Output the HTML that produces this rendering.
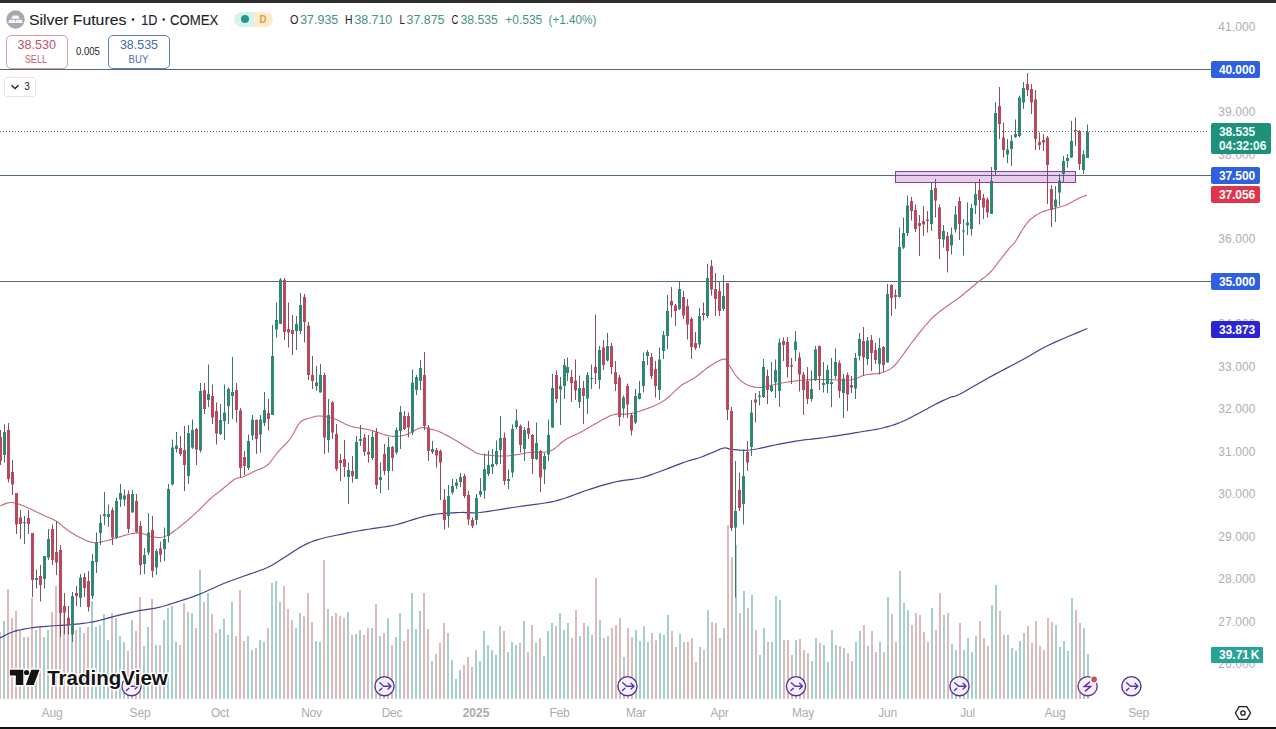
<!DOCTYPE html>
<html><head><meta charset="utf-8"><title>Silver Futures</title>
<style>
html,body{margin:0;padding:0;}
body{width:1276px;height:729px;overflow:hidden;background:#fff;position:relative;font-family:"Liberation Sans",sans-serif;}
.abs{position:absolute;}
.pl{position:absolute;left:1211px;width:52px;text-align:center;font-size:12px;line-height:15px;color:#adafb5;letter-spacing:0.1px;}
.tl{position:absolute;top:705px;width:60px;text-align:center;font-size:12px;line-height:16px;color:#abacaf;letter-spacing:-0.2px;}
.tag{position:absolute;left:1211px;width:49px;height:16.5px;box-sizing:border-box;padding-left:3px;border-radius:2px;color:#fff;font-weight:bold;font-size:12px;line-height:18.5px;text-align:center;letter-spacing:-0.1px;}
</style></head><body>
<svg id="chart" width="1276" height="729" viewBox="0 0 1276 729" style="position:absolute;left:0;top:0"><g shape-rendering="crispEdges"><rect x="-1" y="632" width="2" height="67" fill="#dfbaba"/><rect x="3" y="621" width="2" height="78" fill="#a6cfcb"/><rect x="7" y="589" width="2" height="110" fill="#dfbaba"/><rect x="11" y="618" width="2" height="81" fill="#dfbaba"/><rect x="15" y="611" width="2" height="88" fill="#dfbaba"/><rect x="19" y="629.5" width="2" height="69.5" fill="#dfbaba"/><rect x="23" y="637" width="2" height="62" fill="#a6cfcb"/><rect x="27" y="637" width="2" height="62" fill="#dfbaba"/><rect x="31" y="598" width="2" height="101" fill="#dfbaba"/><rect x="35" y="629.5" width="2" height="69.5" fill="#a6cfcb"/><rect x="39" y="627" width="2" height="72" fill="#dfbaba"/><rect x="43" y="637" width="2" height="62" fill="#a6cfcb"/><rect x="47" y="629.5" width="2" height="69.5" fill="#a6cfcb"/><rect x="51" y="611.5" width="2" height="87.5" fill="#dfbaba"/><rect x="55" y="586" width="2" height="113" fill="#dfbaba"/><rect x="59" y="589.5" width="2" height="109.5" fill="#dfbaba"/><rect x="63" y="606" width="2" height="93" fill="#dfbaba"/><rect x="67" y="617" width="2" height="82" fill="#dfbaba"/><rect x="71" y="619.5" width="2" height="79.5" fill="#a6cfcb"/><rect x="75" y="629.5" width="2" height="69.5" fill="#dfbaba"/><rect x="79" y="627" width="2" height="72" fill="#a6cfcb"/><rect x="83" y="633" width="2" height="66" fill="#dfbaba"/><rect x="87" y="626.5" width="2" height="72.5" fill="#dfbaba"/><rect x="91" y="601" width="2" height="98" fill="#a6cfcb"/><rect x="95" y="627" width="2" height="72" fill="#a6cfcb"/><rect x="99" y="625" width="2" height="74" fill="#a6cfcb"/><rect x="103" y="614" width="2" height="85" fill="#a6cfcb"/><rect x="107" y="640" width="2" height="59" fill="#a6cfcb"/><rect x="111" y="613" width="2" height="86" fill="#dfbaba"/><rect x="115" y="618" width="2" height="81" fill="#a6cfcb"/><rect x="119" y="636" width="2" height="63" fill="#a6cfcb"/><rect x="123" y="642" width="2" height="57" fill="#a6cfcb"/><rect x="127" y="651" width="2" height="48" fill="#dfbaba"/><rect x="131" y="619.5" width="2" height="79.5" fill="#a6cfcb"/><rect x="135" y="631" width="2" height="68" fill="#dfbaba"/><rect x="139" y="597" width="2" height="102" fill="#dfbaba"/><rect x="143" y="646" width="2" height="53" fill="#a6cfcb"/><rect x="147" y="626.5" width="2" height="72.5" fill="#a6cfcb"/><rect x="151" y="599" width="2" height="100" fill="#dfbaba"/><rect x="155" y="644.5" width="2" height="54.5" fill="#a6cfcb"/><rect x="159" y="644.5" width="2" height="54.5" fill="#dfbaba"/><rect x="163" y="619.5" width="2" height="79.5" fill="#a6cfcb"/><rect x="167" y="608" width="2" height="91" fill="#a6cfcb"/><rect x="171" y="606" width="2" height="93" fill="#a6cfcb"/><rect x="175" y="642" width="2" height="57" fill="#a6cfcb"/><rect x="179" y="644.5" width="2" height="54.5" fill="#dfbaba"/><rect x="183" y="603" width="2" height="96" fill="#dfbaba"/><rect x="187" y="612" width="2" height="87" fill="#a6cfcb"/><rect x="191" y="613" width="2" height="86" fill="#a6cfcb"/><rect x="195" y="628" width="2" height="71" fill="#dfbaba"/><rect x="199" y="570" width="2" height="129" fill="#a6cfcb"/><rect x="203" y="602" width="2" height="97" fill="#dfbaba"/><rect x="207" y="593" width="2" height="106" fill="#a6cfcb"/><rect x="211" y="614" width="2" height="85" fill="#dfbaba"/><rect x="215" y="633" width="2" height="66" fill="#dfbaba"/><rect x="219" y="629" width="2" height="70" fill="#a6cfcb"/><rect x="223" y="619" width="2" height="80" fill="#a6cfcb"/><rect x="227" y="635" width="2" height="64" fill="#a6cfcb"/><rect x="231" y="602" width="2" height="97" fill="#a6cfcb"/><rect x="235" y="636" width="2" height="63" fill="#dfbaba"/><rect x="239" y="590" width="2" height="109" fill="#dfbaba"/><rect x="243" y="641" width="2" height="58" fill="#dfbaba"/><rect x="247" y="636" width="2" height="63" fill="#a6cfcb"/><rect x="251" y="649.5" width="2" height="49.5" fill="#a6cfcb"/><rect x="255" y="648" width="2" height="51" fill="#dfbaba"/><rect x="259" y="639.5" width="2" height="59.5" fill="#a6cfcb"/><rect x="263" y="642" width="2" height="57" fill="#a6cfcb"/><rect x="267" y="628" width="2" height="71" fill="#dfbaba"/><rect x="271" y="582.5" width="2" height="116.5" fill="#a6cfcb"/><rect x="275" y="581" width="2" height="118" fill="#a6cfcb"/><rect x="279" y="601.5" width="2" height="97.5" fill="#a6cfcb"/><rect x="283" y="586" width="2" height="113" fill="#dfbaba"/><rect x="287" y="609" width="2" height="90" fill="#dfbaba"/><rect x="291" y="620" width="2" height="79" fill="#dfbaba"/><rect x="295" y="628" width="2" height="71" fill="#a6cfcb"/><rect x="299" y="613" width="2" height="86" fill="#a6cfcb"/><rect x="303" y="616" width="2" height="83" fill="#dfbaba"/><rect x="307" y="592.5" width="2" height="106.5" fill="#dfbaba"/><rect x="311" y="622" width="2" height="77" fill="#dfbaba"/><rect x="315" y="641" width="2" height="58" fill="#a6cfcb"/><rect x="319" y="642" width="2" height="57" fill="#a6cfcb"/><rect x="323" y="560" width="2" height="139" fill="#dfbaba"/><rect x="327" y="609" width="2" height="90" fill="#a6cfcb"/><rect x="331" y="616" width="2" height="83" fill="#dfbaba"/><rect x="335" y="613" width="2" height="86" fill="#dfbaba"/><rect x="339" y="616" width="2" height="83" fill="#dfbaba"/><rect x="343" y="618" width="2" height="81" fill="#dfbaba"/><rect x="347" y="612" width="2" height="87" fill="#a6cfcb"/><rect x="351" y="635" width="2" height="64" fill="#dfbaba"/><rect x="355" y="634" width="2" height="65" fill="#a6cfcb"/><rect x="359" y="630" width="2" height="69" fill="#a6cfcb"/><rect x="363" y="635" width="2" height="64" fill="#dfbaba"/><rect x="367" y="628" width="2" height="71" fill="#dfbaba"/><rect x="371" y="628" width="2" height="71" fill="#a6cfcb"/><rect x="375" y="604" width="2" height="95" fill="#dfbaba"/><rect x="379" y="636" width="2" height="63" fill="#a6cfcb"/><rect x="383" y="633" width="2" height="66" fill="#dfbaba"/><rect x="387" y="618" width="2" height="81" fill="#a6cfcb"/><rect x="391" y="645" width="2" height="54" fill="#dfbaba"/><rect x="395" y="637" width="2" height="62" fill="#a6cfcb"/><rect x="399" y="613" width="2" height="86" fill="#a6cfcb"/><rect x="403" y="641" width="2" height="58" fill="#dfbaba"/><rect x="407" y="629" width="2" height="70" fill="#dfbaba"/><rect x="411" y="593" width="2" height="106" fill="#a6cfcb"/><rect x="415" y="629" width="2" height="70" fill="#a6cfcb"/><rect x="419" y="611" width="2" height="88" fill="#a6cfcb"/><rect x="423" y="593" width="2" height="106" fill="#dfbaba"/><rect x="427" y="629" width="2" height="70" fill="#dfbaba"/><rect x="431" y="661" width="2" height="38" fill="#a6cfcb"/><rect x="435" y="654" width="2" height="45" fill="#dfbaba"/><rect x="439" y="643" width="2" height="56" fill="#dfbaba"/><rect x="443" y="623" width="2" height="76" fill="#dfbaba"/><rect x="447" y="633" width="2" height="66" fill="#a6cfcb"/><rect x="451" y="660" width="2" height="39" fill="#a6cfcb"/><rect x="455" y="679" width="2" height="20" fill="#a6cfcb"/><rect x="459" y="670" width="2" height="29" fill="#a6cfcb"/><rect x="463" y="665" width="2" height="34" fill="#dfbaba"/><rect x="467" y="657" width="2" height="42" fill="#dfbaba"/><rect x="471" y="667" width="2" height="32" fill="#dfbaba"/><rect x="475" y="650" width="2" height="49" fill="#a6cfcb"/><rect x="479" y="661" width="2" height="38" fill="#a6cfcb"/><rect x="483" y="631" width="2" height="68" fill="#a6cfcb"/><rect x="487" y="644.5" width="2" height="54.5" fill="#a6cfcb"/><rect x="491" y="649.5" width="2" height="49.5" fill="#a6cfcb"/><rect x="495" y="654.5" width="2" height="44.5" fill="#a6cfcb"/><rect x="499" y="626" width="2" height="73" fill="#a6cfcb"/><rect x="503" y="631" width="2" height="68" fill="#dfbaba"/><rect x="507" y="651.5" width="2" height="47.5" fill="#a6cfcb"/><rect x="511" y="641.5" width="2" height="57.5" fill="#a6cfcb"/><rect x="515" y="644.5" width="2" height="54.5" fill="#a6cfcb"/><rect x="519" y="643" width="2" height="56" fill="#dfbaba"/><rect x="523" y="621" width="2" height="78" fill="#a6cfcb"/><rect x="527" y="651.5" width="2" height="47.5" fill="#dfbaba"/><rect x="531" y="624.5" width="2" height="74.5" fill="#dfbaba"/><rect x="535" y="643" width="2" height="56" fill="#a6cfcb"/><rect x="539" y="638" width="2" height="61" fill="#dfbaba"/><rect x="543" y="656" width="2" height="43" fill="#a6cfcb"/><rect x="547" y="631" width="2" height="68" fill="#a6cfcb"/><rect x="551" y="623" width="2" height="76" fill="#a6cfcb"/><rect x="555" y="626" width="2" height="73" fill="#dfbaba"/><rect x="559" y="612.5" width="2" height="86.5" fill="#a6cfcb"/><rect x="563" y="629.5" width="2" height="69.5" fill="#a6cfcb"/><rect x="567" y="622.5" width="2" height="76.5" fill="#a6cfcb"/><rect x="571" y="638" width="2" height="61" fill="#dfbaba"/><rect x="575" y="609.5" width="2" height="89.5" fill="#dfbaba"/><rect x="579" y="636" width="2" height="63" fill="#a6cfcb"/><rect x="583" y="622.5" width="2" height="76.5" fill="#dfbaba"/><rect x="587" y="626" width="2" height="73" fill="#a6cfcb"/><rect x="591" y="635" width="2" height="64" fill="#a6cfcb"/><rect x="595" y="578" width="2" height="121" fill="#dfbaba"/><rect x="599" y="619.5" width="2" height="79.5" fill="#a6cfcb"/><rect x="603" y="638" width="2" height="61" fill="#dfbaba"/><rect x="607" y="636" width="2" height="63" fill="#a6cfcb"/><rect x="611" y="627.5" width="2" height="71.5" fill="#dfbaba"/><rect x="615" y="624.5" width="2" height="74.5" fill="#dfbaba"/><rect x="619" y="617.5" width="2" height="81.5" fill="#dfbaba"/><rect x="623" y="657" width="2" height="42" fill="#a6cfcb"/><rect x="627" y="627.5" width="2" height="71.5" fill="#dfbaba"/><rect x="631" y="637" width="2" height="62" fill="#dfbaba"/><rect x="635" y="629.5" width="2" height="69.5" fill="#a6cfcb"/><rect x="639" y="641" width="2" height="58" fill="#a6cfcb"/><rect x="643" y="626" width="2" height="73" fill="#a6cfcb"/><rect x="647" y="641.5" width="2" height="57.5" fill="#a6cfcb"/><rect x="651" y="632.5" width="2" height="66.5" fill="#dfbaba"/><rect x="655" y="640" width="2" height="59" fill="#dfbaba"/><rect x="659" y="633" width="2" height="66" fill="#a6cfcb"/><rect x="663" y="634.5" width="2" height="64.5" fill="#a6cfcb"/><rect x="667" y="615" width="2" height="84" fill="#a6cfcb"/><rect x="671" y="631" width="2" height="68" fill="#dfbaba"/><rect x="675" y="647" width="2" height="52" fill="#dfbaba"/><rect x="679" y="634" width="2" height="65" fill="#a6cfcb"/><rect x="683" y="641.5" width="2" height="57.5" fill="#dfbaba"/><rect x="687" y="642" width="2" height="57" fill="#dfbaba"/><rect x="691" y="638" width="2" height="61" fill="#dfbaba"/><rect x="695" y="662" width="2" height="37" fill="#dfbaba"/><rect x="699" y="646.5" width="2" height="52.5" fill="#a6cfcb"/><rect x="703" y="649.5" width="2" height="49.5" fill="#dfbaba"/><rect x="707" y="609.5" width="2" height="89.5" fill="#a6cfcb"/><rect x="711" y="621.5" width="2" height="77.5" fill="#dfbaba"/><rect x="715" y="623" width="2" height="76" fill="#dfbaba"/><rect x="719" y="637.5" width="2" height="61.5" fill="#dfbaba"/><rect x="723" y="628" width="2" height="71" fill="#a6cfcb"/><rect x="727" y="525" width="2" height="174" fill="#dfbaba"/><rect x="731" y="557" width="2" height="142" fill="#dfbaba"/><rect x="735" y="545" width="2" height="154" fill="#a6cfcb"/><rect x="739" y="612.5" width="2" height="86.5" fill="#dfbaba"/><rect x="743" y="591" width="2" height="108" fill="#a6cfcb"/><rect x="747" y="608" width="2" height="91" fill="#dfbaba"/><rect x="751" y="595" width="2" height="104" fill="#a6cfcb"/><rect x="755" y="630" width="2" height="69" fill="#dfbaba"/><rect x="759" y="655" width="2" height="44" fill="#a6cfcb"/><rect x="763" y="628" width="2" height="71" fill="#a6cfcb"/><rect x="767" y="642" width="2" height="57" fill="#dfbaba"/><rect x="771" y="642" width="2" height="57" fill="#a6cfcb"/><rect x="775" y="596" width="2" height="103" fill="#a6cfcb"/><rect x="779" y="600" width="2" height="99" fill="#a6cfcb"/><rect x="783" y="639.5" width="2" height="59.5" fill="#dfbaba"/><rect x="787" y="639.5" width="2" height="59.5" fill="#dfbaba"/><rect x="791" y="655" width="2" height="44" fill="#dfbaba"/><rect x="795" y="639.5" width="2" height="59.5" fill="#a6cfcb"/><rect x="799" y="639" width="2" height="60" fill="#dfbaba"/><rect x="803" y="650" width="2" height="49" fill="#dfbaba"/><rect x="807" y="653" width="2" height="46" fill="#dfbaba"/><rect x="811" y="661" width="2" height="38" fill="#a6cfcb"/><rect x="815" y="637.5" width="2" height="61.5" fill="#a6cfcb"/><rect x="819" y="643" width="2" height="56" fill="#dfbaba"/><rect x="823" y="644.5" width="2" height="54.5" fill="#a6cfcb"/><rect x="827" y="662" width="2" height="37" fill="#a6cfcb"/><rect x="831" y="629.5" width="2" height="69.5" fill="#a6cfcb"/><rect x="835" y="644.5" width="2" height="54.5" fill="#a6cfcb"/><rect x="839" y="646" width="2" height="53" fill="#dfbaba"/><rect x="843" y="648" width="2" height="51" fill="#a6cfcb"/><rect x="847" y="652.5" width="2" height="46.5" fill="#dfbaba"/><rect x="851" y="661" width="2" height="38" fill="#dfbaba"/><rect x="855" y="642" width="2" height="57" fill="#a6cfcb"/><rect x="859" y="631" width="2" height="68" fill="#a6cfcb"/><rect x="863" y="624.5" width="2" height="74.5" fill="#dfbaba"/><rect x="867" y="646" width="2" height="53" fill="#a6cfcb"/><rect x="871" y="631" width="2" height="68" fill="#dfbaba"/><rect x="875" y="652" width="2" height="47" fill="#dfbaba"/><rect x="879" y="642" width="2" height="57" fill="#a6cfcb"/><rect x="883" y="652" width="2" height="47" fill="#dfbaba"/><rect x="887" y="597" width="2" height="102" fill="#a6cfcb"/><rect x="891" y="614" width="2" height="85" fill="#dfbaba"/><rect x="895" y="642" width="2" height="57" fill="#dfbaba"/><rect x="899" y="571" width="2" height="128" fill="#a6cfcb"/><rect x="903" y="603" width="2" height="96" fill="#a6cfcb"/><rect x="907" y="610" width="2" height="89" fill="#a6cfcb"/><rect x="911" y="624.5" width="2" height="74.5" fill="#dfbaba"/><rect x="915" y="612.5" width="2" height="86.5" fill="#dfbaba"/><rect x="919" y="614.5" width="2" height="84.5" fill="#dfbaba"/><rect x="923" y="632" width="2" height="67" fill="#dfbaba"/><rect x="927" y="642" width="2" height="57" fill="#dfbaba"/><rect x="931" y="608" width="2" height="91" fill="#a6cfcb"/><rect x="935" y="630" width="2" height="69" fill="#dfbaba"/><rect x="939" y="592.5" width="2" height="106.5" fill="#dfbaba"/><rect x="943" y="615" width="2" height="84" fill="#a6cfcb"/><rect x="947" y="612.5" width="2" height="86.5" fill="#dfbaba"/><rect x="951" y="644" width="2" height="55" fill="#a6cfcb"/><rect x="955" y="650" width="2" height="49" fill="#a6cfcb"/><rect x="959" y="622.5" width="2" height="76.5" fill="#dfbaba"/><rect x="963" y="649.5" width="2" height="49.5" fill="#a6cfcb"/><rect x="967" y="638" width="2" height="61" fill="#a6cfcb"/><rect x="971" y="652" width="2" height="47" fill="#a6cfcb"/><rect x="975" y="636" width="2" height="63" fill="#a6cfcb"/><rect x="979" y="621" width="2" height="78" fill="#dfbaba"/><rect x="983" y="637.5" width="2" height="61.5" fill="#dfbaba"/><rect x="987" y="646" width="2" height="53" fill="#dfbaba"/><rect x="991" y="605" width="2" height="94" fill="#a6cfcb"/><rect x="995" y="585" width="2" height="114" fill="#a6cfcb"/><rect x="999" y="611" width="2" height="88" fill="#dfbaba"/><rect x="1003" y="635" width="2" height="64" fill="#dfbaba"/><rect x="1007" y="635" width="2" height="64" fill="#a6cfcb"/><rect x="1011" y="648" width="2" height="51" fill="#a6cfcb"/><rect x="1015" y="651" width="2" height="48" fill="#a6cfcb"/><rect x="1019" y="641" width="2" height="58" fill="#a6cfcb"/><rect x="1023" y="633" width="2" height="66" fill="#a6cfcb"/><rect x="1027" y="626" width="2" height="73" fill="#dfbaba"/><rect x="1031" y="642.5" width="2" height="56.5" fill="#dfbaba"/><rect x="1035" y="621" width="2" height="78" fill="#dfbaba"/><rect x="1039" y="646" width="2" height="53" fill="#dfbaba"/><rect x="1043" y="650" width="2" height="49" fill="#dfbaba"/><rect x="1047" y="617.5" width="2" height="81.5" fill="#dfbaba"/><rect x="1051" y="622" width="2" height="77" fill="#dfbaba"/><rect x="1055" y="624.5" width="2" height="74.5" fill="#a6cfcb"/><rect x="1059" y="647" width="2" height="52" fill="#a6cfcb"/><rect x="1063" y="641" width="2" height="58" fill="#a6cfcb"/><rect x="1067" y="651" width="2" height="48" fill="#a6cfcb"/><rect x="1071" y="597.5" width="2" height="101.5" fill="#a6cfcb"/><rect x="1075" y="609.5" width="2" height="89.5" fill="#dfbaba"/><rect x="1079" y="623" width="2" height="76" fill="#dfbaba"/><rect x="1083" y="627.5" width="2" height="71.5" fill="#a6cfcb"/><rect x="1087" y="654" width="2" height="45" fill="#a6cfcb"/></g><g shape-rendering="crispEdges"><rect x="0" y="69" width="1211" height="1" fill="#506d77"/><rect x="0" y="175" width="1211" height="1" fill="#506d77"/><rect x="0" y="281" width="1211" height="1" fill="#506d77"/></g><line x1="0" y1="131.5" x2="1209" y2="131.5" stroke="#5b6b66" stroke-width="1" stroke-dasharray="1 2" shape-rendering="crispEdges"/><polyline fill="none" stroke="#3f418c" stroke-width="1.2" stroke-linejoin="round" points="0,638 1.3,637.32 3.06,636.37 5.16,635.25 7.5,634.07 9.98,632.95 12.5,632 15.1,631.19 17.87,630.44 20.78,629.75 23.8,629.11 26.88,628.53 30,628 33.16,627.55 36.39,627.17 39.69,626.84 43.06,626.56 46.49,626.28 50,626 53.63,625.73 57.39,625.5 61.23,625.29 65.06,625.06 68.84,624.81 72.5,624.5 76.01,624.16 79.42,623.82 82.77,623.45 86.1,623.02 89.47,622.51 92.9,621.9 96.37,621.15 99.84,620.29 103.33,619.34 106.89,618.36 110.53,617.36 114.3,616.4 118.28,615.43 122.47,614.43 126.75,613.41 131.01,612.43 135.13,611.51 139,610.7 142.57,610.05 145.91,609.54 149.12,609.09 152.28,608.64 155.48,608.1 158.8,607.4 162.27,606.52 165.81,605.52 169.39,604.43 172.97,603.29 176.52,602.14 180,601 183.37,599.9 186.66,598.82 189.92,597.73 193.19,596.58 196.54,595.35 200,594 203.66,592.47 207.5,590.76 211.41,588.97 215.28,587.19 219.01,585.5 222.5,584 225.59,582.75 228.33,581.7 230.94,580.75 233.61,579.8 236.56,578.75 240,577.5 244.12,576.04 248.8,574.44 253.75,572.75 258.7,571 263.38,569.24 267.5,567.5 271,565.78 274.07,564.06 276.88,562.31 279.54,560.56 282.2,558.78 285,557 287.92,555.15 290.83,553.22 293.75,551.28 296.67,549.39 299.58,547.61 302.5,546 305.24,544.6 307.78,543.37 310.31,542.25 313.06,541.19 316.22,540.12 320,539 324.72,537.79 330.28,536.52 336.25,535.25 342.22,534.04 347.78,532.94 352.5,532 356.2,531.28 359.17,530.74 361.72,530.31 364.17,529.93 366.82,529.51 370,529 373.73,528.43 377.78,527.87 382.03,527.28 386.39,526.63 390.75,525.88 395,525 399.25,523.91 403.61,522.61 407.97,521.22 412.22,519.83 416.27,518.56 420,517.5 423.29,516.66 426.2,515.96 428.91,515.38 431.57,514.87 434.38,514.42 437.5,514 440.99,513.62 444.72,513.3 448.59,513.03 452.5,512.81 456.34,512.64 460,512.5 463.33,512.47 466.39,512.57 469.38,512.72 472.5,512.81 475.97,512.77 480,512.5 484.69,511.95 489.91,511.19 495.47,510.28 501.2,509.31 506.94,508.36 512.5,507.5 518.09,506.72 523.89,505.94 529.69,505.19 535.28,504.44 540.45,503.72 545,503 548.7,502.36 551.67,501.81 554.22,501.28 556.67,500.69 559.32,499.95 562.5,499 566.2,497.78 570.19,496.33 574.38,494.75 578.7,493.11 583.1,491.5 587.5,490 591.97,488.56 596.57,487.11 601.25,485.69 605.93,484.33 610.53,483.09 615,482 619.37,481.13 623.7,480.46 627.97,479.91 632.13,479.37 636.15,478.77 640,478 643.56,477.1 646.85,476.13 650,475.09 653.15,473.98 656.44,472.79 660,471.5 663.99,470.03 668.33,468.37 672.81,466.62 677.22,464.91 681.35,463.33 685,462 688.11,460.97 690.83,460.15 693.28,459.47 695.56,458.85 697.76,458.22 700,457.5 702.24,456.69 704.39,455.85 706.47,455 708.5,454.15 710.5,453.31 712.5,452.5 714.51,451.65 716.52,450.74 718.5,449.84 720.43,449.04 722.27,448.4 724,448 725.49,447.91 726.72,448.09 727.88,448.44 729.11,448.85 730.6,449.24 732.5,449.5 734.81,449.7 737.39,449.94 740.22,450.16 743.28,450.28 746.55,450.25 750,450 753.73,449.48 757.78,448.72 762.03,447.81 766.39,446.83 770.75,445.87 775,445 779.17,444.2 783.33,443.41 787.5,442.62 791.67,441.87 795.83,441.16 800,440.5 804.05,439.94 807.96,439.48 811.88,439.06 815.93,438.63 820.25,438.13 825,437.5 830.4,436.71 836.39,435.8 842.66,434.81 848.89,433.81 854.77,432.86 860,432 864.53,431.26 868.61,430.61 872.34,430 875.83,429.39 879.18,428.74 882.5,428 885.71,427.2 888.7,426.39 891.56,425.53 894.35,424.61 897.14,423.61 900,422.5 902.92,421.27 905.83,419.93 908.75,418.5 911.67,417.02 914.58,415.51 917.5,414 920.45,412.45 923.43,410.81 926.41,409.16 929.35,407.52 932.23,405.95 935,404.5 937.7,403.15 940.37,401.85 942.97,400.62 945.46,399.48 947.82,398.44 950,397.5 951.72,396.87 952.96,396.57 954.06,396.38 955.37,396.04 957.23,395.32 960,394 963.82,391.95 968.44,389.33 973.62,386.34 979.11,383.17 984.65,379.99 990,377 995.28,374.14 1000.7,371.26 1006.19,368.38 1011.63,365.52 1016.93,362.72 1022,360 1026.66,357.4 1030.95,354.91 1035.1,352.47 1039.34,350.04 1043.9,347.56 1049,345 1055.18,342.15 1062.38,339 1069.89,335.81 1077.02,332.83 1083.09,330.31 1087.4,328.5"/><polyline fill="none" stroke="#c66b75" stroke-width="1.15" stroke-linejoin="round" points="0,506 1.09,505.56 2.59,504.89 4.38,504.12 6.3,503.39 8.22,502.81 10,502.5 11.64,502.47 13.24,502.63 14.84,502.94 16.48,503.37 18.19,503.9 20,504.5 21.94,505.21 23.98,506.06 26.09,507 28.24,508 30.39,509.01 32.5,510 34.6,510.98 36.72,512 38.84,513.03 40.94,514.06 43,515.05 45,516 46.91,516.84 48.76,517.59 50.56,518.31 52.35,519.07 54.16,519.95 56,521 57.88,522.29 59.76,523.76 61.66,525.34 63.57,526.96 65.52,528.54 67.5,530 69.53,531.37 71.59,532.7 73.69,534 75.8,535.24 77.91,536.41 80,537.5 82.08,538.55 84.17,539.59 86.25,540.56 88.33,541.41 90.42,542.07 92.5,542.5 94.58,542.65 96.67,542.56 98.75,542.28 100.83,541.89 102.92,541.44 105,541 107.08,540.53 109.17,539.98 111.25,539.38 113.33,538.74 115.42,538.11 117.5,537.5 119.61,536.89 121.76,536.24 123.91,535.59 126.02,534.98 128.06,534.44 130,534 131.81,533.64 133.52,533.33 135.16,533.09 136.76,532.94 138.36,532.91 140,533 141.67,533.29 143.33,533.76 145,534.34 146.67,534.96 148.33,535.54 150,536 151.67,536.39 153.33,536.8 155,537.16 156.67,537.43 158.33,537.56 160,537.5 161.61,537.3 163.15,537 164.69,536.56 166.3,535.94 168.04,535.1 170,534 172.21,532.57 174.63,530.83 177.19,528.88 179.81,526.78 182.44,524.62 185,522.5 187.56,520.33 190.19,518.02 192.81,515.66 195.37,513.31 197.79,511.07 200,509 201.93,507.13 203.61,505.41 205.16,503.78 206.67,502.2 208.25,500.63 210,499 211.94,497.33 213.98,495.67 216.09,494 218.24,492.33 220.39,490.67 222.5,489 224.64,487.24 226.85,485.37 229.06,483.5 231.2,481.74 233.21,480.2 235,479 236.48,478.25 237.69,477.89 238.75,477.75 239.81,477.67 241.02,477.47 242.5,477 244.29,476.23 246.3,475.3 248.44,474.25 250.65,473.15 252.86,472.05 255,471 257.11,470.08 259.26,469.24 261.41,468.41 263.52,467.48 265.56,466.38 267.5,465 269.28,463.3 270.93,461.35 272.5,459.22 274.07,456.98 275.72,454.72 277.5,452.5 279.47,450.34 281.57,448.19 283.75,446 285.93,443.76 288.03,441.44 290,439 291.81,436.28 293.52,433.28 295.16,430.19 296.76,427.22 298.36,424.59 300,422.5 301.67,421.03 303.33,420.02 305,419.34 306.67,418.87 308.33,418.47 310,418 311.61,417.46 313.15,416.96 314.69,416.53 316.3,416.2 318.04,416.02 320,416 322.21,416.16 324.63,416.48 327.19,416.94 329.81,417.52 332.44,418.21 335,419 337.44,419.97 339.81,421.15 342.19,422.44 344.63,423.74 347.21,424.96 350,426 353.04,426.82 356.3,427.48 359.69,428.06 363.15,428.63 366.61,429.25 370,430 373.39,430.97 376.85,432.11 380.31,433.31 383.7,434.44 386.96,435.38 390,436 392.79,436.31 395.37,436.41 397.81,436.31 400.19,436.04 402.56,435.59 405,435 407.56,434.09 410.19,432.81 412.81,431.38 415.37,429.96 417.79,428.77 420,428 421.96,427.68 423.7,427.67 425.31,427.88 426.85,428.22 428.39,428.62 430,429 431.61,429.33 433.15,429.67 434.69,430.06 436.3,430.56 438.04,431.19 440,432 442.21,433.03 444.63,434.26 447.19,435.62 449.81,437.07 452.44,438.55 455,440 457.56,441.49 460.19,443.07 462.81,444.69 465.37,446.26 467.79,447.72 470,449 471.78,450.1 473.15,451.07 474.38,451.94 475.74,452.7 477.52,453.39 480,454 483.3,454.57 487.22,455.09 491.56,455.53 496.11,455.85 500.66,456.02 505,456 509.22,455.71 513.52,455.17 517.81,454.47 522.04,453.72 526.12,453.03 530,452.5 533.68,452.24 537.22,452.2 540.62,452.22 543.89,452.13 547.01,451.78 550,451 552.79,449.68 555.37,447.91 557.81,445.88 560.19,443.76 562.56,441.74 565,440 567.5,438.56 570,437.28 572.5,436.09 575,434.94 577.5,433.77 580,432.5 582.47,431.15 584.91,429.76 587.34,428.34 589.81,426.91 592.36,425.46 595,424 597.8,422.44 600.74,420.74 603.75,419.03 606.76,417.43 609.7,416.04 612.5,415 615.17,414.39 617.78,414.15 620.31,414.12 622.78,414.19 625.17,414.19 627.5,414 629.68,413.65 631.7,413.27 633.66,412.82 635.63,412.31 637.71,411.71 640,411 642.58,410.16 645.41,409.19 648.35,408.14 651.27,407.03 654.03,405.91 656.5,404.8 658.61,403.77 660.44,402.79 662.12,401.79 663.77,400.7 665.49,399.46 667.4,398 669.52,396.21 671.75,394.12 674.06,391.88 676.41,389.62 678.77,387.48 681.1,385.6 683.39,384.04 685.68,382.71 687.97,381.49 690.28,380.29 692.62,379 695,377.5 697.45,375.73 699.96,373.75 702.49,371.68 705.03,369.63 707.55,367.7 710,366 712.5,364.42 715.07,362.85 717.62,361.41 720.04,360.2 722.2,359.36 724,359 725.31,359.17 726.2,359.8 726.84,360.78 727.41,362.04 728.07,363.47 729,365 730.2,366.77 731.52,368.87 732.94,371.16 734.43,373.46 735.96,375.63 737.5,377.5 739.05,379.1 740.63,380.56 742.25,381.88 743.93,383.06 745.67,384.1 747.5,385 749.44,385.76 751.48,386.39 753.59,386.88 755.74,387.22 757.89,387.43 760,387.5 762.05,387.38 764.07,387.06 766.09,386.59 768.15,386.06 770.27,385.5 772.5,385 774.83,384.52 777.22,384 779.69,383.47 782.22,382.94 784.83,382.45 787.5,382 790.24,381.59 793.06,381.2 795.94,380.84 798.89,380.52 801.91,380.23 805,380 808.13,379.82 811.3,379.69 814.53,379.59 817.87,379.54 821.35,379.51 825,379.5 828.99,379.59 833.33,379.8 837.81,380.03 842.22,380.2 846.35,380.22 850,380 853.05,379.46 855.65,378.65 857.97,377.69 860.19,376.69 862.47,375.75 865,375 867.83,374.5 870.83,374.17 873.91,373.91 876.94,373.61 879.84,373.18 882.5,372.5 884.84,371.68 886.94,370.83 888.91,369.84 890.83,368.61 892.83,367.03 895,365 897.36,362.38 899.81,359.22 902.34,355.72 904.91,352.06 907.47,348.42 910,345 912.56,341.68 915.19,338.28 917.81,334.91 920.37,331.67 922.79,328.66 925,326 926.9,323.77 928.52,321.91 930,320.28 931.48,318.76 933.1,317.21 935,315.5 937.27,313.59 939.81,311.57 942.5,309.53 945.19,307.54 947.73,305.67 950,304 951.87,302.66 953.43,301.61 954.84,300.69 956.3,299.72 957.96,298.55 960,297 962.54,294.97 965.46,292.56 968.59,289.94 971.76,287.28 974.79,284.74 977.5,282.5 979.9,280.6 982.13,278.93 984.22,277.38 986.2,275.85 988.12,274.26 990,272.5 991.81,270.56 993.52,268.52 995.16,266.41 996.76,264.26 998.36,262.11 1000,260 1001.72,257.84 1003.52,255.57 1005.31,253.31 1007.04,251.15 1008.62,249.18 1010,247.5 1011.04,246.34 1011.76,245.67 1012.34,245.19 1012.96,244.61 1013.79,243.65 1015,242 1016.65,239.44 1018.61,236.17 1020.78,232.5 1023.06,228.78 1025.33,225.33 1027.5,222.5 1029.61,220.27 1031.76,218.37 1033.91,216.75 1036.02,215.35 1038.06,214.12 1040,213 1041.75,212.08 1043.33,211.41 1044.84,210.91 1046.39,210.48 1048.07,210.04 1050,209.5 1052.24,208.89 1054.72,208.3 1057.34,207.69 1060,207.04 1062.59,206.32 1065,205.5 1067.26,204.53 1069.46,203.43 1071.59,202.25 1073.65,201.07 1075.62,199.97 1077.5,199 1079.37,198.14 1081.24,197.33 1083.03,196.59 1084.65,195.94 1086,195.41 1087,195"/><g><rect x="0" y="430" width="1" height="35" fill="#8d4c5a"/><rect x="-1" y="437" width="3" height="24" fill="#ba495d"/><rect x="4" y="424.5" width="1" height="38" fill="#3f7468"/><rect x="3" y="432" width="3" height="23" fill="#2f8876"/><rect x="8" y="423" width="1" height="59.5" fill="#8d4c5a"/><rect x="7" y="430" width="3" height="49" fill="#ba495d"/><rect x="12" y="460" width="1" height="35" fill="#8d4c5a"/><rect x="11" y="472" width="3" height="12.5" fill="#ba495d"/><rect x="16" y="493" width="1" height="41" fill="#8d4c5a"/><rect x="15" y="493" width="3" height="31.5" fill="#ba495d"/><rect x="20" y="510" width="1" height="29" fill="#8d4c5a"/><rect x="19" y="517.5" width="3" height="6.5" fill="#ba495d"/><rect x="24" y="516" width="1" height="28" fill="#3f7468"/><rect x="23" y="522" width="3" height="1" fill="#2f8876"/><rect x="28" y="510" width="1" height="24" fill="#8d4c5a"/><rect x="27" y="518" width="3" height="6" fill="#ba495d"/><rect x="32" y="533" width="1" height="64" fill="#8d4c5a"/><rect x="31" y="533" width="3" height="47" fill="#ba495d"/><rect x="36" y="569.5" width="1" height="19" fill="#3f7468"/><rect x="35" y="578" width="3" height="2" fill="#2f8876"/><rect x="40" y="565" width="1" height="36.5" fill="#8d4c5a"/><rect x="39" y="576" width="3" height="9" fill="#ba495d"/><rect x="44" y="556" width="1" height="32.5" fill="#3f7468"/><rect x="43" y="556" width="3" height="23" fill="#2f8876"/><rect x="48" y="529" width="1" height="31" fill="#3f7468"/><rect x="47" y="539" width="3" height="18.5" fill="#2f8876"/><rect x="52" y="524.5" width="1" height="40.5" fill="#8d4c5a"/><rect x="51" y="529" width="3" height="31" fill="#ba495d"/><rect x="56" y="521" width="1" height="54" fill="#8d4c5a"/><rect x="55" y="552" width="3" height="10.5" fill="#ba495d"/><rect x="60" y="545" width="1" height="92" fill="#8d4c5a"/><rect x="59" y="550" width="3" height="63" fill="#ba495d"/><rect x="64" y="593" width="1" height="41.5" fill="#8d4c5a"/><rect x="63" y="606" width="3" height="6.5" fill="#ba495d"/><rect x="68" y="606" width="1" height="28.5" fill="#8d4c5a"/><rect x="67" y="618" width="3" height="6.5" fill="#ba495d"/><rect x="72" y="592" width="1" height="50" fill="#3f7468"/><rect x="71" y="596" width="3" height="38.5" fill="#2f8876"/><rect x="76" y="586" width="1" height="20" fill="#8d4c5a"/><rect x="75" y="593" width="3" height="3" fill="#ba495d"/><rect x="80" y="574" width="1" height="33" fill="#3f7468"/><rect x="79" y="577.5" width="3" height="20.5" fill="#2f8876"/><rect x="84" y="573" width="1" height="24" fill="#8d4c5a"/><rect x="83" y="577" width="3" height="11" fill="#ba495d"/><rect x="88" y="571" width="1" height="40.5" fill="#8d4c5a"/><rect x="87" y="581" width="3" height="26" fill="#ba495d"/><rect x="92" y="554" width="1" height="45" fill="#3f7468"/><rect x="91" y="561" width="3" height="35" fill="#2f8876"/><rect x="96" y="532.5" width="1" height="40.5" fill="#3f7468"/><rect x="95" y="542.5" width="3" height="19.5" fill="#2f8876"/><rect x="100" y="514.5" width="1" height="30.5" fill="#3f7468"/><rect x="99" y="523" width="3" height="10" fill="#2f8876"/><rect x="104" y="492" width="1" height="33" fill="#3f7468"/><rect x="103" y="514" width="3" height="2" fill="#2f8876"/><rect x="108" y="504.5" width="1" height="22.5" fill="#3f7468"/><rect x="107" y="514" width="3" height="3" fill="#2f8876"/><rect x="112" y="507.5" width="1" height="37.5" fill="#8d4c5a"/><rect x="111" y="510" width="3" height="27.5" fill="#ba495d"/><rect x="116" y="497.5" width="1" height="41.5" fill="#3f7468"/><rect x="115" y="501" width="3" height="36.5" fill="#2f8876"/><rect x="120" y="484" width="1" height="23" fill="#3f7468"/><rect x="119" y="493" width="3" height="6.5" fill="#2f8876"/><rect x="124" y="489.5" width="1" height="16.5" fill="#3f7468"/><rect x="123" y="495.5" width="3" height="4" fill="#2f8876"/><rect x="128" y="490.5" width="1" height="42.5" fill="#8d4c5a"/><rect x="127" y="494" width="3" height="35" fill="#ba495d"/><rect x="132" y="490" width="1" height="22.5" fill="#3f7468"/><rect x="131" y="494" width="3" height="18.5" fill="#2f8876"/><rect x="136" y="494" width="1" height="38.5" fill="#8d4c5a"/><rect x="135" y="501" width="3" height="31" fill="#ba495d"/><rect x="140" y="521" width="1" height="54" fill="#8d4c5a"/><rect x="139" y="526" width="3" height="39" fill="#ba495d"/><rect x="144" y="548" width="1" height="26" fill="#3f7468"/><rect x="143" y="555" width="3" height="9" fill="#2f8876"/><rect x="148" y="513" width="1" height="42" fill="#3f7468"/><rect x="147" y="532.5" width="3" height="20" fill="#2f8876"/><rect x="152" y="516" width="1" height="61.5" fill="#8d4c5a"/><rect x="151" y="530" width="3" height="41" fill="#ba495d"/><rect x="156" y="549" width="1" height="26" fill="#3f7468"/><rect x="155" y="551" width="3" height="16.5" fill="#2f8876"/><rect x="160" y="541.5" width="1" height="20.5" fill="#8d4c5a"/><rect x="159" y="548.5" width="3" height="6.2" fill="#ba495d"/><rect x="164" y="527.5" width="1" height="33.5" fill="#3f7468"/><rect x="163" y="539" width="3" height="10" fill="#2f8876"/><rect x="168" y="484" width="1" height="58.5" fill="#3f7468"/><rect x="167" y="489" width="3" height="47" fill="#2f8876"/><rect x="172" y="439.5" width="1" height="46" fill="#3f7468"/><rect x="171" y="447.5" width="3" height="37" fill="#2f8876"/><rect x="176" y="432" width="1" height="20.5" fill="#3f7468"/><rect x="175" y="445.5" width="3" height="3.5" fill="#2f8876"/><rect x="180" y="436" width="1" height="20" fill="#8d4c5a"/><rect x="179" y="448" width="3" height="6" fill="#ba495d"/><rect x="184" y="426" width="1" height="65" fill="#8d4c5a"/><rect x="183" y="450" width="3" height="15" fill="#ba495d"/><rect x="188" y="425" width="1" height="59" fill="#3f7468"/><rect x="187" y="433" width="3" height="43" fill="#2f8876"/><rect x="192" y="419.5" width="1" height="29.5" fill="#3f7468"/><rect x="191" y="430" width="3" height="17.5" fill="#2f8876"/><rect x="196" y="428" width="1" height="37" fill="#8d4c5a"/><rect x="195" y="429" width="3" height="20.5" fill="#ba495d"/><rect x="200" y="383" width="1" height="69.5" fill="#3f7468"/><rect x="199" y="391" width="3" height="59.5" fill="#2f8876"/><rect x="204" y="383" width="1" height="31" fill="#8d4c5a"/><rect x="203" y="390" width="3" height="19" fill="#ba495d"/><rect x="208" y="364.5" width="1" height="42.5" fill="#3f7468"/><rect x="207" y="394" width="3" height="6" fill="#2f8876"/><rect x="212" y="384.5" width="1" height="39.5" fill="#8d4c5a"/><rect x="211" y="396" width="3" height="21.5" fill="#ba495d"/><rect x="216" y="402.5" width="1" height="42" fill="#8d4c5a"/><rect x="215" y="411" width="3" height="22.5" fill="#ba495d"/><rect x="220" y="404" width="1" height="31" fill="#3f7468"/><rect x="219" y="420" width="3" height="14" fill="#2f8876"/><rect x="224" y="384.5" width="1" height="55.5" fill="#3f7468"/><rect x="223" y="412.5" width="3" height="8.5" fill="#2f8876"/><rect x="228" y="387.5" width="1" height="36.5" fill="#3f7468"/><rect x="227" y="389" width="3" height="17" fill="#2f8876"/><rect x="232" y="357" width="1" height="62" fill="#3f7468"/><rect x="231" y="392" width="3" height="4" fill="#2f8876"/><rect x="236" y="383" width="1" height="39.5" fill="#8d4c5a"/><rect x="235" y="390" width="3" height="20" fill="#ba495d"/><rect x="240" y="408" width="1" height="70" fill="#8d4c5a"/><rect x="239" y="410.5" width="3" height="57.5" fill="#ba495d"/><rect x="244" y="451" width="1" height="24" fill="#8d4c5a"/><rect x="243" y="457" width="3" height="9" fill="#ba495d"/><rect x="248" y="434.5" width="1" height="35.5" fill="#3f7468"/><rect x="247" y="441" width="3" height="27" fill="#2f8876"/><rect x="252" y="415" width="1" height="25" fill="#3f7468"/><rect x="251" y="419.5" width="3" height="16" fill="#2f8876"/><rect x="256" y="419.5" width="1" height="34.5" fill="#8d4c5a"/><rect x="255" y="420" width="3" height="19" fill="#ba495d"/><rect x="260" y="415" width="1" height="37.5" fill="#3f7468"/><rect x="259" y="419.5" width="3" height="15" fill="#2f8876"/><rect x="264" y="392" width="1" height="34" fill="#3f7468"/><rect x="263" y="410" width="3" height="13" fill="#2f8876"/><rect x="268" y="399" width="1" height="31.5" fill="#8d4c5a"/><rect x="267" y="413" width="3" height="6" fill="#ba495d"/><rect x="272" y="325" width="1" height="90" fill="#3f7468"/><rect x="271" y="356" width="3" height="59" fill="#2f8876"/><rect x="276" y="302.5" width="1" height="35" fill="#3f7468"/><rect x="275" y="320" width="3" height="9.5" fill="#2f8876"/><rect x="280" y="278" width="1" height="46" fill="#3f7468"/><rect x="279" y="279.5" width="3" height="44.5" fill="#2f8876"/><rect x="284" y="278" width="1" height="62" fill="#8d4c5a"/><rect x="283" y="280" width="3" height="52" fill="#ba495d"/><rect x="288" y="302.5" width="1" height="45" fill="#8d4c5a"/><rect x="287" y="329" width="3" height="3.5" fill="#ba495d"/><rect x="292" y="315" width="1" height="40" fill="#8d4c5a"/><rect x="291" y="330" width="3" height="4" fill="#ba495d"/><rect x="296" y="316" width="1" height="34" fill="#3f7468"/><rect x="295" y="324" width="3" height="7" fill="#2f8876"/><rect x="300" y="293" width="1" height="41" fill="#3f7468"/><rect x="299" y="305" width="3" height="26" fill="#2f8876"/><rect x="304" y="294" width="1" height="48.5" fill="#8d4c5a"/><rect x="303" y="297" width="3" height="25" fill="#ba495d"/><rect x="308" y="322" width="1" height="58" fill="#8d4c5a"/><rect x="307" y="325.5" width="3" height="49.5" fill="#ba495d"/><rect x="312" y="356" width="1" height="33" fill="#8d4c5a"/><rect x="311" y="375" width="3" height="6" fill="#ba495d"/><rect x="316" y="366" width="1" height="25" fill="#3f7468"/><rect x="315" y="382.5" width="3" height="3.5" fill="#2f8876"/><rect x="320" y="364" width="1" height="28.5" fill="#3f7468"/><rect x="319" y="375" width="3" height="17.5" fill="#2f8876"/><rect x="324" y="372.5" width="1" height="81.5" fill="#8d4c5a"/><rect x="323" y="375" width="3" height="62.5" fill="#ba495d"/><rect x="328" y="399" width="1" height="53.5" fill="#3f7468"/><rect x="327" y="415" width="3" height="25" fill="#2f8876"/><rect x="332" y="401" width="1" height="38" fill="#8d4c5a"/><rect x="331" y="402.5" width="3" height="30" fill="#ba495d"/><rect x="336" y="424" width="1" height="47" fill="#8d4c5a"/><rect x="335" y="434" width="3" height="35" fill="#ba495d"/><rect x="340" y="454" width="1" height="27" fill="#8d4c5a"/><rect x="339" y="460" width="3" height="3" fill="#ba495d"/><rect x="344" y="440" width="1" height="37" fill="#8d4c5a"/><rect x="343" y="459" width="3" height="8" fill="#ba495d"/><rect x="348" y="462.5" width="1" height="41.5" fill="#3f7468"/><rect x="347" y="470" width="3" height="7" fill="#2f8876"/><rect x="352" y="456" width="1" height="26.5" fill="#8d4c5a"/><rect x="351" y="471" width="3" height="5" fill="#ba495d"/><rect x="356" y="436" width="1" height="43" fill="#3f7468"/><rect x="355" y="442" width="3" height="37" fill="#2f8876"/><rect x="360" y="425" width="1" height="21" fill="#3f7468"/><rect x="359" y="439" width="3" height="2" fill="#2f8876"/><rect x="364" y="434" width="1" height="22" fill="#8d4c5a"/><rect x="363" y="437.5" width="3" height="14.5" fill="#ba495d"/><rect x="368" y="435" width="1" height="27.5" fill="#8d4c5a"/><rect x="367" y="452" width="3" height="2.5" fill="#ba495d"/><rect x="372" y="431" width="1" height="29" fill="#3f7468"/><rect x="371" y="437" width="3" height="21" fill="#2f8876"/><rect x="376" y="428" width="1" height="61" fill="#8d4c5a"/><rect x="375" y="432.5" width="3" height="52.5" fill="#ba495d"/><rect x="380" y="462.5" width="1" height="30.5" fill="#3f7468"/><rect x="379" y="477" width="3" height="3" fill="#2f8876"/><rect x="384" y="444" width="1" height="31" fill="#8d4c5a"/><rect x="383" y="454" width="3" height="17" fill="#ba495d"/><rect x="388" y="437" width="1" height="53" fill="#3f7468"/><rect x="387" y="447" width="3" height="24" fill="#2f8876"/><rect x="392" y="446" width="1" height="25" fill="#8d4c5a"/><rect x="391" y="447" width="3" height="11" fill="#ba495d"/><rect x="396" y="427.5" width="1" height="27" fill="#3f7468"/><rect x="395" y="430" width="3" height="22.5" fill="#2f8876"/><rect x="400" y="406" width="1" height="43" fill="#3f7468"/><rect x="399" y="412" width="3" height="19" fill="#2f8876"/><rect x="404" y="411" width="1" height="19" fill="#8d4c5a"/><rect x="403" y="416" width="3" height="13" fill="#ba495d"/><rect x="408" y="412.5" width="1" height="25" fill="#8d4c5a"/><rect x="407" y="416" width="3" height="11.5" fill="#ba495d"/><rect x="412" y="369.5" width="1" height="65.5" fill="#3f7468"/><rect x="411" y="382.5" width="3" height="50" fill="#2f8876"/><rect x="416" y="375" width="1" height="20" fill="#3f7468"/><rect x="415" y="377" width="3" height="13" fill="#2f8876"/><rect x="420" y="360" width="1" height="30" fill="#3f7468"/><rect x="419" y="368" width="3" height="13" fill="#2f8876"/><rect x="424" y="352" width="1" height="78" fill="#8d4c5a"/><rect x="423" y="375" width="3" height="51" fill="#ba495d"/><rect x="428" y="425" width="1" height="36" fill="#8d4c5a"/><rect x="427" y="427.5" width="3" height="23.5" fill="#ba495d"/><rect x="432" y="441" width="1" height="13" fill="#3f7468"/><rect x="431" y="449" width="3" height="3" fill="#2f8876"/><rect x="436" y="448" width="1" height="19.5" fill="#8d4c5a"/><rect x="435" y="450" width="3" height="5.5" fill="#ba495d"/><rect x="440" y="449.5" width="1" height="50.5" fill="#8d4c5a"/><rect x="439" y="451" width="3" height="11.5" fill="#ba495d"/><rect x="444" y="489" width="1" height="40.5" fill="#8d4c5a"/><rect x="443" y="499.5" width="3" height="20.5" fill="#ba495d"/><rect x="448" y="485" width="1" height="42.5" fill="#3f7468"/><rect x="447" y="496" width="3" height="20" fill="#2f8876"/><rect x="452" y="479" width="1" height="15.5" fill="#3f7468"/><rect x="451" y="486" width="3" height="6.5" fill="#2f8876"/><rect x="456" y="479" width="1" height="10" fill="#3f7468"/><rect x="455" y="482.5" width="3" height="3.5" fill="#2f8876"/><rect x="460" y="473" width="1" height="14" fill="#3f7468"/><rect x="459" y="477" width="3" height="5" fill="#2f8876"/><rect x="464" y="474" width="1" height="24" fill="#8d4c5a"/><rect x="463" y="476" width="3" height="20" fill="#ba495d"/><rect x="468" y="491" width="1" height="34" fill="#8d4c5a"/><rect x="467" y="495" width="3" height="24.5" fill="#ba495d"/><rect x="472" y="517.5" width="1" height="10.5" fill="#8d4c5a"/><rect x="471" y="520" width="3" height="6" fill="#ba495d"/><rect x="476" y="494" width="1" height="31" fill="#3f7468"/><rect x="475" y="498" width="3" height="22" fill="#2f8876"/><rect x="480" y="478" width="1" height="19" fill="#3f7468"/><rect x="479" y="491" width="3" height="3.7" fill="#2f8876"/><rect x="484" y="453.6" width="1" height="45.2" fill="#3f7468"/><rect x="483" y="469.2" width="3" height="21.4" fill="#2f8876"/><rect x="488" y="450.5" width="1" height="25.5" fill="#3f7468"/><rect x="487" y="465" width="3" height="9" fill="#2f8876"/><rect x="492" y="449" width="1" height="25" fill="#3f7468"/><rect x="491" y="464" width="3" height="3" fill="#2f8876"/><rect x="496" y="440.5" width="1" height="25" fill="#3f7468"/><rect x="495" y="451" width="3" height="13" fill="#2f8876"/><rect x="500" y="416" width="1" height="48" fill="#3f7468"/><rect x="499" y="438" width="3" height="12" fill="#2f8876"/><rect x="504" y="432.5" width="1" height="52.5" fill="#8d4c5a"/><rect x="503" y="437.5" width="3" height="43.5" fill="#ba495d"/><rect x="508" y="469.5" width="1" height="19.5" fill="#3f7468"/><rect x="507" y="479" width="3" height="2" fill="#2f8876"/><rect x="512" y="424.5" width="1" height="53" fill="#3f7468"/><rect x="511" y="429" width="3" height="43.5" fill="#2f8876"/><rect x="516" y="409" width="1" height="20" fill="#3f7468"/><rect x="515" y="420.5" width="3" height="6.5" fill="#2f8876"/><rect x="520" y="424.5" width="1" height="28" fill="#8d4c5a"/><rect x="519" y="426" width="3" height="19" fill="#ba495d"/><rect x="524" y="427" width="1" height="34" fill="#3f7468"/><rect x="523" y="430" width="3" height="19" fill="#2f8876"/><rect x="528" y="421" width="1" height="18" fill="#8d4c5a"/><rect x="527" y="428" width="3" height="6" fill="#ba495d"/><rect x="532" y="434" width="1" height="40" fill="#8d4c5a"/><rect x="531" y="435" width="3" height="24" fill="#ba495d"/><rect x="536" y="422.5" width="1" height="37.5" fill="#3f7468"/><rect x="535" y="443" width="3" height="16" fill="#2f8876"/><rect x="540" y="450" width="1" height="42" fill="#8d4c5a"/><rect x="539" y="451" width="3" height="26.5" fill="#ba495d"/><rect x="544" y="453" width="1" height="31" fill="#3f7468"/><rect x="543" y="456" width="3" height="13.5" fill="#2f8876"/><rect x="548" y="419.5" width="1" height="41.5" fill="#3f7468"/><rect x="547" y="435" width="3" height="19.5" fill="#2f8876"/><rect x="552" y="374" width="1" height="54" fill="#3f7468"/><rect x="551" y="388" width="3" height="39.5" fill="#2f8876"/><rect x="556" y="370.5" width="1" height="32.5" fill="#8d4c5a"/><rect x="555" y="375" width="3" height="24" fill="#ba495d"/><rect x="560" y="377" width="1" height="48" fill="#3f7468"/><rect x="559" y="386" width="3" height="3.5" fill="#2f8876"/><rect x="564" y="359" width="1" height="40" fill="#3f7468"/><rect x="563" y="365" width="3" height="21" fill="#2f8876"/><rect x="567" y="357.5" width="1" height="23.5" fill="#3f7468"/><rect x="566" y="367" width="3" height="6" fill="#2f8876"/><rect x="571" y="370" width="1" height="32" fill="#8d4c5a"/><rect x="570" y="377" width="3" height="6" fill="#ba495d"/><rect x="575" y="359.5" width="1" height="40.5" fill="#8d4c5a"/><rect x="574" y="380.5" width="3" height="10" fill="#ba495d"/><rect x="579" y="375.5" width="1" height="32.5" fill="#3f7468"/><rect x="578" y="388" width="3" height="14" fill="#2f8876"/><rect x="583" y="381" width="1" height="43" fill="#8d4c5a"/><rect x="582" y="388" width="3" height="8" fill="#ba495d"/><rect x="587" y="372" width="1" height="42" fill="#3f7468"/><rect x="586" y="375" width="3" height="23.5" fill="#2f8876"/><rect x="591" y="364.5" width="1" height="24.5" fill="#3f7468"/><rect x="590" y="378" width="3" height="1" fill="#2f8876"/><rect x="595" y="314.5" width="1" height="69.5" fill="#8d4c5a"/><rect x="594" y="367" width="3" height="6" fill="#ba495d"/><rect x="599" y="346" width="1" height="43" fill="#3f7468"/><rect x="598" y="350" width="3" height="30" fill="#2f8876"/><rect x="603" y="340" width="1" height="30" fill="#8d4c5a"/><rect x="602" y="347.5" width="3" height="17.5" fill="#ba495d"/><rect x="607" y="333" width="1" height="28.5" fill="#3f7468"/><rect x="606" y="346" width="3" height="14.5" fill="#2f8876"/><rect x="611" y="343" width="1" height="31" fill="#8d4c5a"/><rect x="610" y="346" width="3" height="21" fill="#ba495d"/><rect x="615" y="361" width="1" height="30" fill="#8d4c5a"/><rect x="614" y="372" width="3" height="12" fill="#ba495d"/><rect x="619" y="375" width="1" height="51" fill="#8d4c5a"/><rect x="618" y="377.5" width="3" height="39.5" fill="#ba495d"/><rect x="623" y="395.5" width="1" height="22" fill="#3f7468"/><rect x="622" y="397.5" width="3" height="11" fill="#2f8876"/><rect x="627" y="383.5" width="1" height="34.5" fill="#8d4c5a"/><rect x="626" y="386" width="3" height="18.5" fill="#ba495d"/><rect x="631" y="413" width="1" height="22.5" fill="#8d4c5a"/><rect x="630" y="415" width="3" height="15.5" fill="#ba495d"/><rect x="635" y="389" width="1" height="35" fill="#3f7468"/><rect x="634" y="396" width="3" height="26.5" fill="#2f8876"/><rect x="639" y="381" width="1" height="18.5" fill="#3f7468"/><rect x="638" y="393" width="3" height="6" fill="#2f8876"/><rect x="643" y="352.5" width="1" height="40" fill="#3f7468"/><rect x="642" y="361" width="3" height="25" fill="#2f8876"/><rect x="647" y="350" width="1" height="15" fill="#3f7468"/><rect x="646" y="352" width="3" height="4" fill="#2f8876"/><rect x="651" y="353" width="1" height="26" fill="#8d4c5a"/><rect x="650" y="357" width="3" height="19" fill="#ba495d"/><rect x="655" y="361" width="1" height="36.5" fill="#8d4c5a"/><rect x="654" y="369" width="3" height="17" fill="#ba495d"/><rect x="659" y="347.5" width="1" height="52.5" fill="#3f7468"/><rect x="658" y="359.5" width="3" height="30.5" fill="#2f8876"/><rect x="663" y="331" width="1" height="28" fill="#3f7468"/><rect x="662" y="335" width="3" height="16" fill="#2f8876"/><rect x="667" y="295" width="1" height="54" fill="#3f7468"/><rect x="666" y="311" width="3" height="25" fill="#2f8876"/><rect x="671" y="287" width="1" height="30.5" fill="#8d4c5a"/><rect x="670" y="301" width="3" height="4.5" fill="#ba495d"/><rect x="675" y="304" width="1" height="22" fill="#8d4c5a"/><rect x="674" y="305.5" width="3" height="5.5" fill="#ba495d"/><rect x="679" y="281" width="1" height="29" fill="#3f7468"/><rect x="678" y="289" width="3" height="20" fill="#2f8876"/><rect x="683" y="291" width="1" height="28" fill="#8d4c5a"/><rect x="682" y="297" width="3" height="18.5" fill="#ba495d"/><rect x="687" y="299" width="1" height="40.5" fill="#8d4c5a"/><rect x="686" y="306" width="3" height="18.5" fill="#ba495d"/><rect x="691" y="317" width="1" height="42" fill="#8d4c5a"/><rect x="690" y="319" width="3" height="28" fill="#ba495d"/><rect x="695" y="332" width="1" height="18" fill="#8d4c5a"/><rect x="694" y="343" width="3" height="5" fill="#ba495d"/><rect x="699" y="308" width="1" height="40" fill="#3f7468"/><rect x="698" y="316" width="3" height="28.5" fill="#2f8876"/><rect x="703" y="302.5" width="1" height="18" fill="#8d4c5a"/><rect x="702" y="313" width="3" height="2" fill="#ba495d"/><rect x="707" y="264" width="1" height="54" fill="#3f7468"/><rect x="706" y="278" width="3" height="38" fill="#2f8876"/><rect x="711" y="260" width="1" height="35.5" fill="#8d4c5a"/><rect x="710" y="266" width="3" height="23.5" fill="#ba495d"/><rect x="715" y="273" width="1" height="43" fill="#8d4c5a"/><rect x="714" y="289" width="3" height="10" fill="#ba495d"/><rect x="719" y="282" width="1" height="34" fill="#8d4c5a"/><rect x="718" y="291" width="3" height="20" fill="#ba495d"/><rect x="723" y="275" width="1" height="36" fill="#3f7468"/><rect x="722" y="296" width="3" height="13" fill="#2f8876"/><rect x="727" y="283" width="1" height="137" fill="#8d4c5a"/><rect x="726" y="283" width="3" height="127" fill="#ba495d"/><rect x="731" y="407" width="1" height="124" fill="#8d4c5a"/><rect x="730" y="411" width="3" height="117" fill="#ba495d"/><rect x="735" y="461" width="1" height="136.5" fill="#3f7468"/><rect x="734" y="511" width="3" height="16.5" fill="#2f8876"/><rect x="739" y="472.5" width="1" height="38.5" fill="#8d4c5a"/><rect x="738" y="490" width="3" height="18" fill="#ba495d"/><rect x="743" y="449.5" width="1" height="75" fill="#3f7468"/><rect x="742" y="476" width="3" height="28" fill="#2f8876"/><rect x="747" y="441" width="1" height="30" fill="#8d4c5a"/><rect x="746" y="452" width="3" height="10.5" fill="#ba495d"/><rect x="751" y="400" width="1" height="56" fill="#3f7468"/><rect x="750" y="412.5" width="3" height="34.5" fill="#2f8876"/><rect x="755" y="393" width="1" height="29.5" fill="#8d4c5a"/><rect x="754" y="399.5" width="3" height="3" fill="#ba495d"/><rect x="759" y="391" width="1" height="14.5" fill="#3f7468"/><rect x="758" y="395.5" width="3" height="1.5" fill="#2f8876"/><rect x="763" y="359" width="1" height="39" fill="#3f7468"/><rect x="762" y="367" width="3" height="30" fill="#2f8876"/><rect x="767" y="369.5" width="1" height="34.5" fill="#8d4c5a"/><rect x="766" y="376" width="3" height="14" fill="#ba495d"/><rect x="771" y="362" width="1" height="30" fill="#3f7468"/><rect x="770" y="386" width="3" height="5" fill="#2f8876"/><rect x="775" y="359.5" width="1" height="38.5" fill="#3f7468"/><rect x="774" y="370" width="3" height="12.5" fill="#2f8876"/><rect x="779" y="338.5" width="1" height="68.5" fill="#3f7468"/><rect x="778" y="342.5" width="3" height="48.5" fill="#2f8876"/><rect x="783" y="337.5" width="1" height="23.5" fill="#8d4c5a"/><rect x="782" y="341" width="3" height="4" fill="#ba495d"/><rect x="787" y="337" width="1" height="40.5" fill="#8d4c5a"/><rect x="786" y="342" width="3" height="25" fill="#ba495d"/><rect x="791" y="358" width="1" height="26" fill="#8d4c5a"/><rect x="790" y="365" width="3" height="1.5" fill="#ba495d"/><rect x="795" y="331" width="1" height="30" fill="#3f7468"/><rect x="794" y="341.5" width="3" height="8.5" fill="#2f8876"/><rect x="799" y="352.5" width="1" height="39" fill="#8d4c5a"/><rect x="798" y="357.5" width="3" height="17" fill="#ba495d"/><rect x="803" y="372" width="1" height="43" fill="#8d4c5a"/><rect x="802" y="374.5" width="3" height="15.5" fill="#ba495d"/><rect x="807" y="367" width="1" height="37" fill="#8d4c5a"/><rect x="806" y="381" width="3" height="18" fill="#ba495d"/><rect x="811" y="370.5" width="1" height="31" fill="#3f7468"/><rect x="810" y="389" width="3" height="10" fill="#2f8876"/><rect x="815" y="346" width="1" height="35" fill="#3f7468"/><rect x="814" y="349.5" width="3" height="30.5" fill="#2f8876"/><rect x="819" y="345.5" width="1" height="44.5" fill="#8d4c5a"/><rect x="818" y="346" width="3" height="30" fill="#ba495d"/><rect x="823" y="362" width="1" height="30.5" fill="#3f7468"/><rect x="822" y="383" width="3" height="2" fill="#2f8876"/><rect x="827" y="365" width="1" height="28" fill="#3f7468"/><rect x="826" y="370" width="3" height="14" fill="#2f8876"/><rect x="831" y="358" width="1" height="49" fill="#3f7468"/><rect x="830" y="382" width="3" height="2" fill="#2f8876"/><rect x="835" y="348.5" width="1" height="30.5" fill="#3f7468"/><rect x="834" y="362" width="3" height="14" fill="#2f8876"/><rect x="839" y="360.5" width="1" height="37.5" fill="#8d4c5a"/><rect x="838" y="363" width="3" height="28" fill="#ba495d"/><rect x="843" y="374" width="1" height="44" fill="#3f7468"/><rect x="842" y="378.5" width="3" height="14.5" fill="#2f8876"/><rect x="847" y="372.5" width="1" height="38.5" fill="#8d4c5a"/><rect x="846" y="375" width="3" height="19.5" fill="#ba495d"/><rect x="851" y="376" width="1" height="17" fill="#8d4c5a"/><rect x="850" y="385" width="3" height="2.5" fill="#ba495d"/><rect x="855" y="353" width="1" height="46" fill="#3f7468"/><rect x="854" y="358" width="3" height="30.5" fill="#2f8876"/><rect x="859" y="333" width="1" height="27.5" fill="#3f7468"/><rect x="858" y="339" width="3" height="17" fill="#2f8876"/><rect x="863" y="327" width="1" height="49" fill="#8d4c5a"/><rect x="862" y="341" width="3" height="16.5" fill="#ba495d"/><rect x="867" y="337" width="1" height="28" fill="#3f7468"/><rect x="866" y="340.5" width="3" height="18.5" fill="#2f8876"/><rect x="871" y="335" width="1" height="36" fill="#8d4c5a"/><rect x="870" y="340" width="3" height="13" fill="#ba495d"/><rect x="875" y="343" width="1" height="21" fill="#8d4c5a"/><rect x="874" y="350" width="3" height="10" fill="#ba495d"/><rect x="879" y="338" width="1" height="36.5" fill="#3f7468"/><rect x="878" y="348" width="3" height="16" fill="#2f8876"/><rect x="883" y="346" width="1" height="26" fill="#8d4c5a"/><rect x="882" y="347" width="3" height="18" fill="#ba495d"/><rect x="887" y="284" width="1" height="78.5" fill="#3f7468"/><rect x="886" y="294" width="3" height="68.5" fill="#2f8876"/><rect x="891" y="284" width="1" height="32" fill="#8d4c5a"/><rect x="890" y="285" width="3" height="13" fill="#ba495d"/><rect x="895" y="289.5" width="1" height="19.5" fill="#8d4c5a"/><rect x="894" y="295" width="3" height="2" fill="#ba495d"/><rect x="899" y="227.5" width="1" height="70" fill="#3f7468"/><rect x="898" y="247" width="3" height="50" fill="#2f8876"/><rect x="903" y="217.5" width="1" height="31.5" fill="#3f7468"/><rect x="902" y="233" width="3" height="14.5" fill="#2f8876"/><rect x="907" y="195.5" width="1" height="40.5" fill="#3f7468"/><rect x="906" y="205.5" width="3" height="27.5" fill="#2f8876"/><rect x="911" y="197" width="1" height="23.5" fill="#8d4c5a"/><rect x="910" y="201" width="3" height="10" fill="#ba495d"/><rect x="915" y="204.5" width="1" height="27.5" fill="#8d4c5a"/><rect x="914" y="210" width="3" height="19" fill="#ba495d"/><rect x="919" y="215" width="1" height="41" fill="#8d4c5a"/><rect x="918" y="223" width="3" height="3" fill="#ba495d"/><rect x="923" y="206" width="1" height="30" fill="#8d4c5a"/><rect x="922" y="221" width="3" height="3.5" fill="#ba495d"/><rect x="927" y="211" width="1" height="21.5" fill="#8d4c5a"/><rect x="926" y="219.5" width="3" height="1.5" fill="#ba495d"/><rect x="931" y="182.5" width="1" height="48.5" fill="#3f7468"/><rect x="930" y="190" width="3" height="34" fill="#2f8876"/><rect x="935" y="179" width="1" height="38.5" fill="#8d4c5a"/><rect x="934" y="188" width="3" height="12.5" fill="#ba495d"/><rect x="939" y="204.5" width="1" height="54.5" fill="#8d4c5a"/><rect x="938" y="207.5" width="3" height="31.5" fill="#ba495d"/><rect x="943" y="225" width="1" height="22.5" fill="#3f7468"/><rect x="942" y="231" width="3" height="8.5" fill="#2f8876"/><rect x="947" y="232" width="1" height="40.5" fill="#8d4c5a"/><rect x="946" y="236" width="3" height="15" fill="#ba495d"/><rect x="951" y="227.5" width="1" height="27" fill="#3f7468"/><rect x="950" y="234.5" width="3" height="11" fill="#2f8876"/><rect x="955" y="206" width="1" height="26.5" fill="#3f7468"/><rect x="954" y="214.5" width="3" height="15" fill="#2f8876"/><rect x="959" y="197" width="1" height="43" fill="#8d4c5a"/><rect x="958" y="201" width="3" height="23" fill="#ba495d"/><rect x="963" y="219" width="1" height="36.5" fill="#3f7468"/><rect x="962" y="230.5" width="3" height="1" fill="#2f8876"/><rect x="967" y="202.5" width="1" height="32.5" fill="#3f7468"/><rect x="966" y="222.5" width="3" height="3" fill="#2f8876"/><rect x="971" y="204" width="1" height="31.5" fill="#3f7468"/><rect x="970" y="208" width="3" height="21" fill="#2f8876"/><rect x="975" y="183" width="1" height="31" fill="#3f7468"/><rect x="974" y="194" width="3" height="11.5" fill="#2f8876"/><rect x="979" y="179" width="1" height="45.5" fill="#8d4c5a"/><rect x="978" y="190" width="3" height="10" fill="#ba495d"/><rect x="983" y="194" width="1" height="25" fill="#8d4c5a"/><rect x="982" y="198" width="3" height="9.5" fill="#ba495d"/><rect x="987" y="197.5" width="1" height="20" fill="#8d4c5a"/><rect x="986" y="199.5" width="3" height="13" fill="#ba495d"/><rect x="991" y="167" width="1" height="47" fill="#3f7468"/><rect x="990" y="181" width="3" height="33" fill="#2f8876"/><rect x="995" y="102.5" width="1" height="72.5" fill="#3f7468"/><rect x="994" y="113" width="3" height="57" fill="#2f8876"/><rect x="999" y="87" width="1" height="52" fill="#8d4c5a"/><rect x="998" y="106" width="3" height="18" fill="#ba495d"/><rect x="1003" y="122.5" width="1" height="35" fill="#8d4c5a"/><rect x="1002" y="137.5" width="3" height="12.5" fill="#ba495d"/><rect x="1007" y="139" width="1" height="24" fill="#3f7468"/><rect x="1006" y="149.5" width="3" height="5" fill="#2f8876"/><rect x="1011" y="135" width="1" height="31" fill="#3f7468"/><rect x="1010" y="141" width="3" height="8" fill="#2f8876"/><rect x="1015" y="119.5" width="1" height="18.5" fill="#3f7468"/><rect x="1014" y="134" width="3" height="3" fill="#2f8876"/><rect x="1019" y="95.5" width="1" height="42" fill="#3f7468"/><rect x="1018" y="97.5" width="3" height="38.5" fill="#2f8876"/><rect x="1023" y="82" width="1" height="27" fill="#3f7468"/><rect x="1022" y="88" width="3" height="14.5" fill="#2f8876"/><rect x="1027" y="73" width="1" height="23" fill="#8d4c5a"/><rect x="1026" y="84" width="3" height="6" fill="#ba495d"/><rect x="1031" y="84" width="1" height="30" fill="#8d4c5a"/><rect x="1030" y="89" width="3" height="13.5" fill="#ba495d"/><rect x="1035" y="90" width="1" height="60" fill="#8d4c5a"/><rect x="1034" y="99.5" width="3" height="39.5" fill="#ba495d"/><rect x="1039" y="132.5" width="1" height="17.5" fill="#8d4c5a"/><rect x="1038" y="142" width="3" height="3" fill="#ba495d"/><rect x="1043" y="134" width="1" height="17" fill="#8d4c5a"/><rect x="1042" y="140" width="3" height="2.5" fill="#ba495d"/><rect x="1047" y="136" width="1" height="68" fill="#8d4c5a"/><rect x="1046" y="137.5" width="3" height="27.5" fill="#ba495d"/><rect x="1051" y="185" width="1" height="42" fill="#8d4c5a"/><rect x="1050" y="189" width="3" height="21" fill="#ba495d"/><rect x="1055" y="186" width="1" height="36" fill="#3f7468"/><rect x="1054" y="199.5" width="3" height="7.5" fill="#2f8876"/><rect x="1059" y="174" width="1" height="32" fill="#3f7468"/><rect x="1058" y="180.5" width="3" height="12" fill="#2f8876"/><rect x="1063" y="156" width="1" height="26" fill="#3f7468"/><rect x="1062" y="161" width="3" height="13" fill="#2f8876"/><rect x="1067" y="154" width="1" height="13.5" fill="#3f7468"/><rect x="1066" y="158" width="3" height="3" fill="#2f8876"/><rect x="1071" y="121" width="1" height="37" fill="#3f7468"/><rect x="1070" y="141" width="3" height="16.5" fill="#2f8876"/><rect x="1075" y="117.5" width="1" height="28.5" fill="#8d4c5a"/><rect x="1074" y="130" width="3" height="1" fill="#ba495d"/><rect x="1079" y="130" width="1" height="40" fill="#8d4c5a"/><rect x="1078" y="131" width="3" height="33" fill="#ba495d"/><rect x="1083" y="150.5" width="1" height="23.5" fill="#3f7468"/><rect x="1082" y="154.5" width="3" height="15.5" fill="#2f8876"/><rect x="1087" y="124.5" width="1" height="33.5" fill="#3f7468"/><rect x="1086" y="132" width="3" height="26" fill="#2f8876"/></g><rect x="895.5" y="171.5" width="180" height="11" fill="#9c27b0" fill-opacity="0.23" stroke="#8a3aa4" stroke-width="1"/></svg>
<!-- header -->
<div class="abs" style="left:0;top:3px;width:620px;height:30px;background:rgba(255,255,255,0)"></div>
<svg class="abs" style="left:6px;top:10px" width="19" height="19" viewBox="0 0 19 19"><circle cx="9.5" cy="9.5" r="9.2" fill="#a9a7b0"/><path d="M6.6 5.6h5.8l1.2 3.2H5.4z" fill="#f4f3f6"/><path d="M3.2 9.8h5.6l1 3.2H2.2z" fill="#f4f3f6"/><path d="M10.2 9.8h5.6l1 3.2H9.2z" fill="#f4f3f6"/></svg>
<div class="abs" style="left:234px;top:11.8px;width:20px;height:14.8px;background:#d9f1ee;border-radius:8px 0 0 8px"></div>
<div class="abs" style="left:254px;top:11.8px;width:19.2px;height:14.8px;background:#fdebd0;border-radius:0 8px 8px 0"></div>
<div class="abs" style="left:240.6px;top:14.7px;width:8.4px;height:8.4px;border-radius:50%;background:#1f9a84"></div>
<!-- sell / buy -->
<div class="abs" style="left:6px;top:35px;width:62px;height:34px;border:1px solid #e39aa6;border-radius:5px;box-sizing:border-box;background:#fff;text-align:center;color:#c8465a"></div>
<div class="abs" style="left:108px;top:35px;width:62px;height:34px;border:1px solid #5f7fc6;border-radius:5px;box-sizing:border-box;background:#fff;text-align:center;color:#3e62b4"></div>
<div class="abs" style="left:4px;top:76.5px;width:32px;height:20px;border:1px solid #e6e6e9;border-radius:3px;box-sizing:border-box;background:#fff"></div>
<svg class="abs" style="left:9.5px;top:81.5px" width="10" height="10" viewBox="0 0 10 10"><path d="M1.5 3.3 L5 6.5 L8.5 3.3" fill="none" stroke="#222" stroke-width="1.4"/></svg>
<svg width="640" height="110" viewBox="0 0 640 110" style="position:absolute;left:0;top:0;font-family:'Liberation Sans',sans-serif"><text x="29" y="24.9" font-size="15" font-weight="normal" fill="#222226" stroke="#222226" stroke-width="0.12" textLength="97.3" lengthAdjust="spacingAndGlyphs">Silver Futures</text><circle cx="133" cy="19.6" r="1.25" fill="#222226"/><circle cx="163.7" cy="19.6" r="1.25" fill="#222226"/><text x="141.2" y="24.9" font-size="15" font-weight="normal" fill="#222226" stroke="#222226" stroke-width="0.12" textLength="16.2" lengthAdjust="spacingAndGlyphs">1D</text><text x="170" y="24.9" font-size="15" font-weight="normal" fill="#222226" stroke="#222226" stroke-width="0.12" textLength="48.4" lengthAdjust="spacingAndGlyphs">COMEX</text><text x="259.6" y="23.1" font-size="11" font-weight="bold" fill="#e39a34" textLength="7.1" lengthAdjust="spacingAndGlyphs">D</text><text x="289.9" y="23.8" font-size="12" font-weight="normal" fill="#222226" textLength="8.5" lengthAdjust="spacingAndGlyphs">O</text><text x="300.2" y="23.8" font-size="12" font-weight="normal" fill="#3f9585" textLength="38.1" lengthAdjust="spacingAndGlyphs">37.935</text><text x="344.9" y="23.8" font-size="12" font-weight="normal" fill="#222226" textLength="7.5" lengthAdjust="spacingAndGlyphs">H</text><text x="354.4" y="23.8" font-size="12" font-weight="normal" fill="#3f9585" textLength="37.8" lengthAdjust="spacingAndGlyphs">38.710</text><text x="399.5" y="23.8" font-size="12" font-weight="normal" fill="#222226" textLength="5.4" lengthAdjust="spacingAndGlyphs">L</text><text x="406.6" y="23.8" font-size="12" font-weight="normal" fill="#3f9585" textLength="37.8" lengthAdjust="spacingAndGlyphs">37.875</text><text x="451.5" y="23.8" font-size="12" font-weight="normal" fill="#222226" textLength="6.9" lengthAdjust="spacingAndGlyphs">C</text><text x="460.5" y="23.8" font-size="12" font-weight="normal" fill="#3f9585" textLength="37.3" lengthAdjust="spacingAndGlyphs">38.535</text><text x="505.2" y="23.8" font-size="12" font-weight="normal" fill="#3f9585" textLength="37.1" lengthAdjust="spacingAndGlyphs">+0.535</text><text x="548.6" y="23.8" font-size="12" font-weight="normal" fill="#3f9585" textLength="47.7" lengthAdjust="spacingAndGlyphs">(+1.40%)</text><text x="17.6" y="48.9" font-size="13" font-weight="normal" fill="#c5506a" textLength="38.5" lengthAdjust="spacingAndGlyphs">38.530</text><text x="24.7" y="62.8" font-size="10.8" font-weight="normal" fill="#c25e70" textLength="22.5" lengthAdjust="spacingAndGlyphs">SELL</text><text x="119.9" y="48.9" font-size="13" font-weight="normal" fill="#4668b2" textLength="38.1" lengthAdjust="spacingAndGlyphs">38.535</text><text x="128.6" y="62.8" font-size="10.8" font-weight="normal" fill="#4a6db4" textLength="19.8" lengthAdjust="spacingAndGlyphs">BUY</text><text x="75.9" y="55.1" font-size="10.3" font-weight="normal" fill="#222226" textLength="24" lengthAdjust="spacingAndGlyphs">0.005</text><text x="24.3" y="90.4" font-size="11" font-weight="normal" fill="#222226" textLength="5.6" lengthAdjust="spacingAndGlyphs">3</text></svg>
<!-- price axis -->
<div class="pl" style="top:20px">41.000</div><div class="pl" style="top:105px">39.000</div><div class="pl" style="top:148px">38.000</div><div class="pl" style="top:232px">36.000</div><div class="pl" style="top:317px">34.000</div><div class="pl" style="top:360px">33.000</div><div class="pl" style="top:402px">32.000</div><div class="pl" style="top:445px">31.000</div><div class="pl" style="top:487px">30.000</div><div class="pl" style="top:530px">29.000</div><div class="pl" style="top:572px">28.000</div><div class="pl" style="top:615px">27.000</div><div class="pl" style="top:657px">26.000</div>
<div class="tag" style="top:61.2px;background:#2f60e0">40.000</div>
<div class="abs" style="left:1211px;top:123px;width:60px;height:31px;border-radius:2px;background:#1f9079;color:#effffb;font-weight:bold;font-size:12px;line-height:14px;letter-spacing:-0.1px"><div style="position:absolute;left:8px;top:2px">38.535</div><div style="position:absolute;left:8px;top:16px">04:32:06</div></div>
<div class="tag" style="top:167px;background:#2f60e0">37.500</div>
<div class="tag" style="top:186.2px;background:#e0334c">37.056</div>
<div class="tag" style="top:273.2px;background:#2f60e0">35.000</div>
<div class="tag" style="top:321.3px;background:#2d25d2">33.873</div>
<div class="tag" style="top:646.5px;width:52px;background:#2aa397;border-radius:1px;text-align:left;text-indent:5px;letter-spacing:0;word-spacing:-1.5px;line-height:16.5px">39.71 K</div>
<!-- time axis -->
<div class="tl" style="left:22px">Aug</div><div class="tl" style="left:110px">Sep</div><div class="tl" style="left:190px">Oct</div><div class="tl" style="left:281.5px">Nov</div><div class="tl" style="left:362px">Dec</div><div class="tl" style="left:446px;font-weight:bold;letter-spacing:0">2025</div><div class="tl" style="left:529.5px">Feb</div><div class="tl" style="left:606px">Mar</div><div class="tl" style="left:689.5px">Apr</div><div class="tl" style="left:773px">May</div><div class="tl" style="left:857.5px">Jun</div><div class="tl" style="left:937.5px">Jul</div><div class="tl" style="left:1025px">Aug</div><div class="tl" style="left:1108.7px">Sep</div>
<svg class="abs" style="left:1234px;top:704px" width="18" height="18" viewBox="0 0 18 18"><path d="M5.2 2.6h7.6l3.8 6.4-3.8 6.4H5.2L1.4 9z" fill="none" stroke="#222" stroke-width="1.35" stroke-linejoin="round"/><circle cx="9" cy="9" r="2.2" fill="none" stroke="#222" stroke-width="1.3"/></svg>
<svg width="1276" height="729" viewBox="0 0 1276 729" style="position:absolute;left:0;top:0"><g transform="translate(131.5,686.2)"><circle r="9.6" fill="#f8f0ff" stroke="#51358f" stroke-width="1.4"/><path d="M-0.5 0 H6.4 M3.6 -2.9 L6.5 0 L3.6 2.9 M-4.8 -3.5 L-0.8 0 M-5 4.4 L-2.6 2" fill="none" stroke="#5238ad" stroke-width="1.4" stroke-linecap="round" stroke-linejoin="round"/></g><g transform="translate(384.5,686.2)"><circle r="9.6" fill="#f8f0ff" stroke="#51358f" stroke-width="1.4"/><path d="M-0.5 0 H6.4 M3.6 -2.9 L6.5 0 L3.6 2.9 M-4.8 -3.5 L-0.8 0 M-5 4.4 L-2.6 2" fill="none" stroke="#5238ad" stroke-width="1.4" stroke-linecap="round" stroke-linejoin="round"/></g><g transform="translate(627.5,686.2)"><circle r="9.6" fill="#f8f0ff" stroke="#51358f" stroke-width="1.4"/><path d="M-0.5 0 H6.4 M3.6 -2.9 L6.5 0 L3.6 2.9 M-4.8 -3.5 L-0.8 0 M-5 4.4 L-2.6 2" fill="none" stroke="#5238ad" stroke-width="1.4" stroke-linecap="round" stroke-linejoin="round"/></g><g transform="translate(796,686.2)"><circle r="9.6" fill="#f8f0ff" stroke="#51358f" stroke-width="1.4"/><path d="M-0.5 0 H6.4 M3.6 -2.9 L6.5 0 L3.6 2.9 M-4.8 -3.5 L-0.8 0 M-5 4.4 L-2.6 2" fill="none" stroke="#5238ad" stroke-width="1.4" stroke-linecap="round" stroke-linejoin="round"/></g><g transform="translate(959.5,686.2)"><circle r="9.6" fill="#f8f0ff" stroke="#51358f" stroke-width="1.4"/><path d="M-0.5 0 H6.4 M3.6 -2.9 L6.5 0 L3.6 2.9 M-4.8 -3.5 L-0.8 0 M-5 4.4 L-2.6 2" fill="none" stroke="#5238ad" stroke-width="1.4" stroke-linecap="round" stroke-linejoin="round"/></g><g transform="translate(1131.4,686.2)"><circle r="9.6" fill="#f8f0ff" stroke="#51358f" stroke-width="1.4"/><path d="M-0.5 0 H6.4 M3.6 -2.9 L6.5 0 L3.6 2.9 M-4.8 -3.5 L-0.8 0 M-5 4.4 L-2.6 2" fill="none" stroke="#5238ad" stroke-width="1.4" stroke-linecap="round" stroke-linejoin="round"/></g><g transform="translate(1087.6,686.2)"><circle r="9.6" fill="#f8f0ff" stroke="#6f3792" stroke-width="1.4"/><path d="M2.3 -4.3 L-3.2 0.3 H3 L-2.6 5.2" fill="none" stroke="#6a2f98" stroke-width="1.5" stroke-linejoin="miter"/><circle cx="6.5" cy="-6.8" r="4" fill="#fff"/><circle cx="6.5" cy="-6.8" r="2.8" fill="#c4515c"/></g></svg>
<!-- logo -->
<svg class="abs" style="left:9px;top:665px" width="166" height="28" viewBox="0 0 166 28">
<g fill="#fff" stroke="#fff" stroke-width="3" stroke-linejoin="round"><path d="M0.9 4.8H14.3V19.9H6.8V10.4H0.9z"/><circle cx="17.6" cy="7.5" r="2.6"/><path d="M22.3 4.8H30.5L24.8 19.9H16.8z"/></g>
<g fill="#131316"><path d="M0.9 4.8H14.3V19.9H6.8V10.4H0.9z"/><circle cx="17.6" cy="7.5" r="2.6"/><path d="M22.3 4.8H30.5L24.8 19.9H16.8z"/></g>
<text x="38.2" y="19.9" font-family="Liberation Sans, sans-serif" font-weight="bold" font-size="21" fill="#131316" stroke="#fff" stroke-width="3" paint-order="stroke" textLength="120.6" lengthAdjust="spacingAndGlyphs">TradingView</text>
</svg>
<div class="abs" style="left:0;top:720.5px;width:1276px;height:1px;background:#f7f7f8"></div>
<!-- borders -->
<div class="abs" style="left:0;top:0;width:1276px;height:2.7px;background:#2d2d2d"></div>
<div class="abs" style="left:0;top:726.5px;width:1276px;height:2.5px;background:#111"></div>
</body></html>
